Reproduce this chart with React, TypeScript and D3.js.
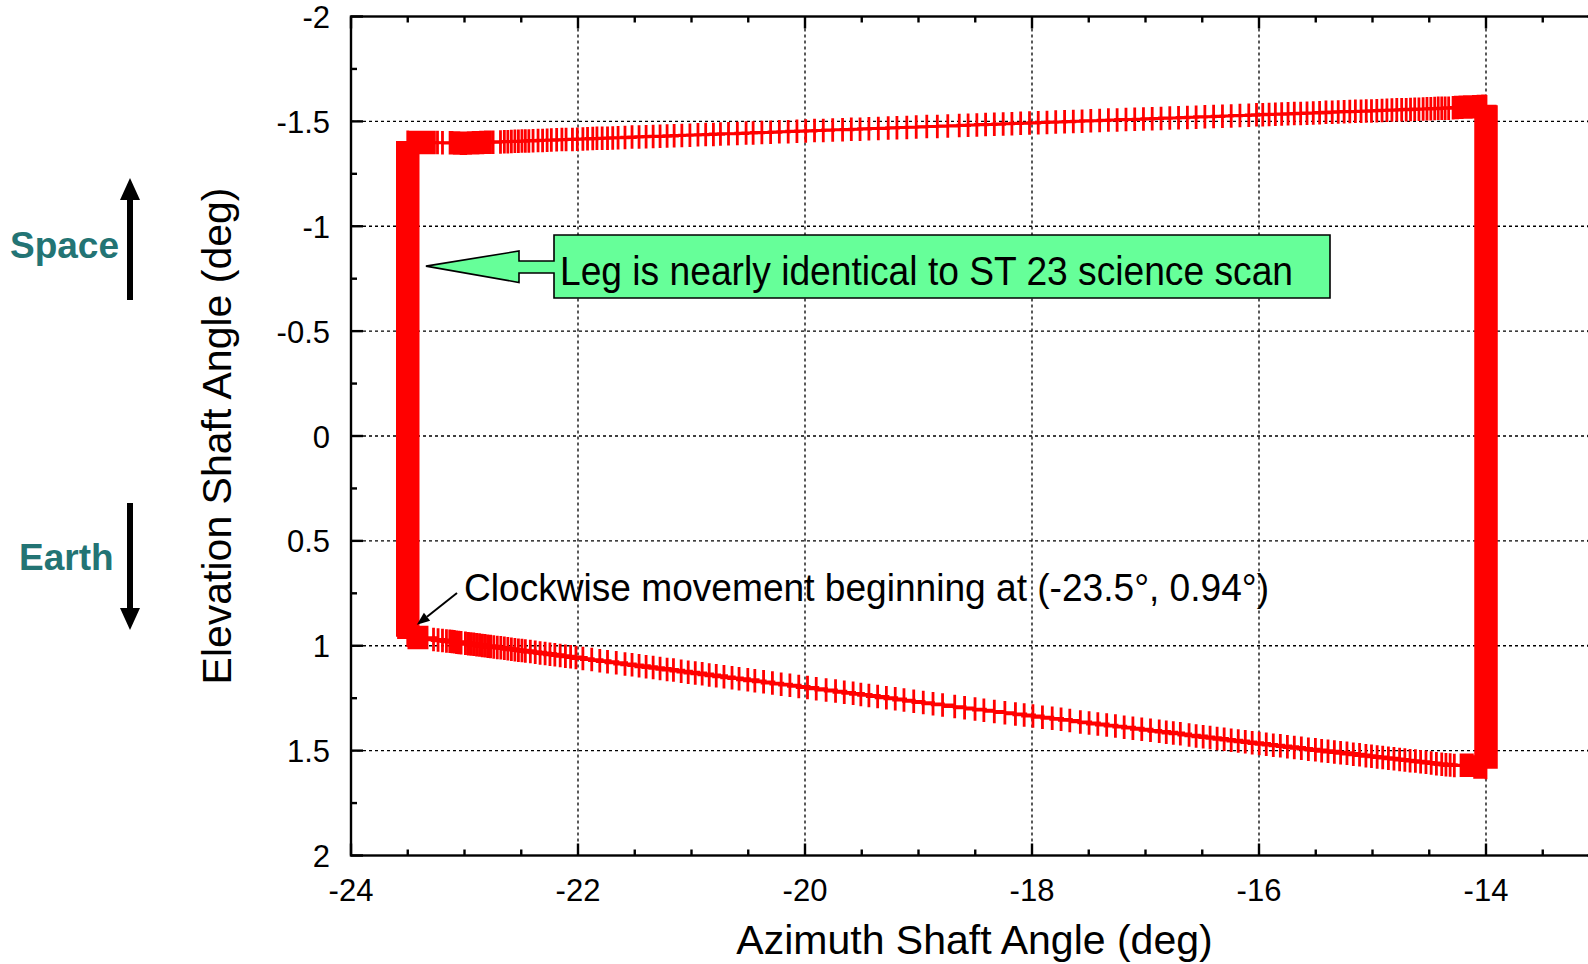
import React, { useEffect } from 'react';
import * as d3 from 'd3';

// ---------- data (degrees) ----------
const xDomain: [number, number] = [-24, -13];
const yDomain: [number, number] = [-2, 2];
const xMajorTicks = [-24, -22, -20, -18, -16, -14];
const xMinorTicks = [-23.5, -23, -22.5, -21.5, -21, -20.5, -19.5, -19, -18.5, -17.5, -17, -16.5, -15.5, -15, -14.5, -13.5];
const yMajorTicks = [-2, -1.5, -1, -0.5, 0, 0.5, 1, 1.5, 2];
const yMinorTicks = [-1.75, -1.25, -0.75, -0.25, 0.25, 0.75, 1.25, 1.75];
const xTickLabels = ['-24', '-22', '-20', '-18', '-16', '-14'];
const yTickLabels = ['-2', '-1.5', '-1', '-0.5', '0', '0.5', '1', '1.5', '2'];

// left leg (az constant), traversed upward from the start point
const leftLegAz = -23.5;
const leftLegEl = [
  0.95, 0.94, 0.93, 0.92, 0.91, 0.90, 0.89, 0.88, 0.87, 0.86, 0.85, 0.84, 0.83, 0.82, 0.81, 0.80, 0.79, 0.78, 0.77, 0.76,
  0.75, 0.74, 0.73, 0.72, 0.71, 0.70, 0.69, 0.68, 0.67, 0.66, 0.65, 0.64, 0.63, 0.62, 0.61, 0.60, 0.59, 0.58, 0.57, 0.56,
  0.55, 0.54, 0.53, 0.52, 0.51, 0.50, 0.49, 0.48, 0.47, 0.46, 0.45, 0.44, 0.43, 0.42, 0.41, 0.40, 0.39, 0.38, 0.37, 0.36,
  0.35, 0.34, 0.33, 0.32, 0.31, 0.30, 0.29, 0.28, 0.27, 0.26, 0.25, 0.24, 0.23, 0.22, 0.21, 0.20, 0.19, 0.18, 0.17, 0.16,
  0.15, 0.14, 0.13, 0.12, 0.11, 0.10, 0.09, 0.08, 0.07, 0.06, 0.05, 0.04, 0.03, 0.02, 0.01, 0.00, -0.01, -0.02, -0.03, -0.04,
  -0.05, -0.06, -0.07, -0.08, -0.09, -0.10, -0.11, -0.12, -0.13, -0.14, -0.15, -0.16, -0.17, -0.18, -0.19, -0.20, -0.21, -0.22, -0.23, -0.24,
  -0.25, -0.26, -0.27, -0.28, -0.29, -0.30, -0.31, -0.32, -0.33, -0.34, -0.35, -0.36, -0.37, -0.38, -0.39, -0.40, -0.41, -0.42, -0.43, -0.44,
  -0.45, -0.46, -0.47, -0.48, -0.49, -0.50, -0.51, -0.52, -0.53, -0.54, -0.55, -0.56, -0.57, -0.58, -0.59, -0.60, -0.61, -0.62, -0.63, -0.64,
  -0.65, -0.66, -0.67, -0.68, -0.69, -0.70, -0.71, -0.72, -0.73, -0.74, -0.75, -0.76, -0.77, -0.78, -0.79, -0.80, -0.81, -0.82, -0.83, -0.84,
  -0.85, -0.86, -0.87, -0.88, -0.89, -0.90, -0.91, -0.92, -0.93, -0.94, -0.95, -0.96, -0.97, -0.98, -0.99, -1.00, -1.01, -1.02, -1.03, -1.04,
  -1.05, -1.06, -1.07, -1.08, -1.09, -1.10, -1.11, -1.12, -1.13, -1.14, -1.15, -1.16, -1.17, -1.18, -1.19, -1.20, -1.21, -1.22, -1.23, -1.24,
  -1.25, -1.26, -1.27, -1.28, -1.29, -1.30, -1.31, -1.32, -1.33, -1.34, -1.35, -1.36, -1.37, -1.38, -1.39, -1.40,
];

// top leg [az, el], left to right
const topLeg: [number, number][] = [
  [-23.485, -1.399], [-23.465, -1.399], [-23.445, -1.399], [-23.425, -1.399], [-23.405, -1.399], [-23.385, -1.399],
  [-23.365, -1.399], [-23.345, -1.399], [-23.325, -1.399], [-23.305, -1.399], [-23.285, -1.399], [-23.265, -1.399],
  [-23.238, -1.399], [-23.194, -1.398],
  [-23.127, -1.398], [-23.11, -1.398], [-23.09, -1.397], [-23.07, -1.397], [-23.05, -1.397], [-23.03, -1.396], [-23.01, -1.396],
  [-22.989, -1.396], [-22.967, -1.397], [-22.946, -1.397], [-22.924, -1.398], [-22.902, -1.398], [-22.881, -1.398], [-22.859, -1.399],
  [-22.838, -1.399], [-22.816, -1.4], [-22.794, -1.4], [-22.773, -1.4], [-22.748, -1.401],
  [-22.683, -1.402], [-22.649, -1.403], [-22.618, -1.403], [-22.587, -1.404], [-22.556, -1.405], [-22.525, -1.405], [-22.494, -1.406],
  [-22.464, -1.406], [-22.433, -1.407], [-22.396, -1.408],
  [-22.352, -1.409], [-22.312, -1.409], [-22.272, -1.41], [-22.235, -1.411], [-22.188, -1.412], [-22.142, -1.413], [-22.105, -1.413],
  [-22.049, -1.414], [-22.006, -1.415], [-21.957, -1.416], [-21.916, -1.417], [-21.87, -1.418], [-21.833, -1.419], [-21.787, -1.419],
  [-21.74, -1.42], [-21.694, -1.421], [-21.647, -1.422], [-21.586, -1.423], [-21.524, -1.425], [-21.462, -1.426], [-21.4, -1.427],
  [-21.338, -1.428], [-21.277, -1.429], [-21.215, -1.43], [-21.153, -1.432], [-21.085, -1.433], [-21.014, -1.434], [-20.943, -1.436],
  [-20.875, -1.437], [-20.807, -1.438], [-20.745, -1.44], [-20.674, -1.441], [-20.596, -1.442], [-20.519, -1.444], [-20.457, -1.445],
  [-20.38, -1.447], [-20.303, -1.448], [-20.226, -1.45], [-20.148, -1.451], [-20.071, -1.453], [-19.994, -1.454], [-19.916, -1.456],
  [-19.839, -1.457], [-19.756, -1.459], [-19.669, -1.46], [-19.592, -1.462], [-19.515, -1.463], [-19.437, -1.465], [-19.354, -1.466],
  [-19.267, -1.468], [-19.19, -1.47], [-19.103, -1.471], [-19.02, -1.473], [-18.927, -1.475], [-18.834, -1.476], [-18.742, -1.478],
  [-18.641, -1.48], [-18.563, -1.482], [-18.486, -1.483], [-18.409, -1.485], [-18.332, -1.486], [-18.254, -1.488], [-18.177, -1.489],
  [-18.1, -1.491], [-18.022, -1.492], [-17.945, -1.494], [-17.868, -1.495], [-17.791, -1.497], [-17.713, -1.498], [-17.636, -1.5],
  [-17.559, -1.501], [-17.482, -1.503], [-17.404, -1.504], [-17.327, -1.506], [-17.25, -1.507], [-17.172, -1.509], [-17.095, -1.51],
  [-17.018, -1.511], [-16.941, -1.513], [-16.863, -1.514], [-16.786, -1.516], [-16.709, -1.517], [-16.631, -1.519], [-16.554, -1.52],
  [-16.477, -1.522], [-16.4, -1.523], [-16.322, -1.525], [-16.245, -1.526], [-16.168, -1.528], [-16.09, -1.529], [-16.022, -1.531],
  [-15.967, -1.532], [-15.911, -1.533], [-15.856, -1.534], [-15.8, -1.535], [-15.744, -1.536], [-15.689, -1.537], [-15.633, -1.538],
  [-15.577, -1.539], [-15.522, -1.54], [-15.466, -1.541], [-15.41, -1.543], [-15.355, -1.544], [-15.302, -1.545], [-15.25, -1.546],
  [-15.2, -1.547], [-15.151, -1.548], [-15.101, -1.548], [-15.055, -1.549], [-15.009, -1.55], [-14.962, -1.551], [-14.916, -1.552],
  [-14.873, -1.553], [-14.829, -1.554], [-14.786, -1.555], [-14.743, -1.555], [-14.703, -1.556], [-14.665, -1.557], [-14.628, -1.558],
  [-14.591, -1.558], [-14.554, -1.559], [-14.52, -1.56], [-14.486, -1.56], [-14.452, -1.561], [-14.421, -1.562], [-14.39, -1.562],
  [-14.36, -1.563], [-14.329, -1.563],
  [-14.29, -1.565], [-14.27, -1.566], [-14.25, -1.566], [-14.23, -1.567], [-14.21, -1.567], [-14.19, -1.568], [-14.17, -1.568],
  [-14.15, -1.569], [-14.13, -1.569], [-14.11, -1.57], [-14.09, -1.57], [-14.07, -1.571], [-14.05, -1.571], [-14.03, -1.572], [-14.01, -1.572],
];

// right leg (az constant), traversed downward
const rightLegAz = -14.0;
const rightLegEl = [
  -1.57, -1.56, -1.55, -1.54, -1.53, -1.52, -1.51, -1.50, -1.49, -1.48, -1.47, -1.46, -1.45, -1.44, -1.43, -1.42, -1.41, -1.40, -1.39, -1.38,
  -1.37, -1.36, -1.35, -1.34, -1.33, -1.32, -1.31, -1.30, -1.29, -1.28, -1.27, -1.26, -1.25, -1.24, -1.23, -1.22, -1.21, -1.20, -1.19, -1.18,
  -1.17, -1.16, -1.15, -1.14, -1.13, -1.12, -1.11, -1.10, -1.09, -1.08, -1.07, -1.06, -1.05, -1.04, -1.03, -1.02, -1.01, -1.00, -0.99, -0.98,
  -0.97, -0.96, -0.95, -0.94, -0.93, -0.92, -0.91, -0.90, -0.89, -0.88, -0.87, -0.86, -0.85, -0.84, -0.83, -0.82, -0.81, -0.80, -0.79, -0.78,
  -0.77, -0.76, -0.75, -0.74, -0.73, -0.72, -0.71, -0.70, -0.69, -0.68, -0.67, -0.66, -0.65, -0.64, -0.63, -0.62, -0.61, -0.60, -0.59, -0.58,
  -0.57, -0.56, -0.55, -0.54, -0.53, -0.52, -0.51, -0.50, -0.49, -0.48, -0.47, -0.46, -0.45, -0.44, -0.43, -0.42, -0.41, -0.40, -0.39, -0.38,
  -0.37, -0.36, -0.35, -0.34, -0.33, -0.32, -0.31, -0.30, -0.29, -0.28, -0.27, -0.26, -0.25, -0.24, -0.23, -0.22, -0.21, -0.20, -0.19, -0.18,
  -0.17, -0.16, -0.15, -0.14, -0.13, -0.12, -0.11, -0.10, -0.09, -0.08, -0.07, -0.06, -0.05, -0.04, -0.03, -0.02, -0.01, 0.00, 0.01, 0.02,
  0.03, 0.04, 0.05, 0.06, 0.07, 0.08, 0.09, 0.10, 0.11, 0.12, 0.13, 0.14, 0.15, 0.16, 0.17, 0.18, 0.19, 0.20, 0.21, 0.22,
  0.23, 0.24, 0.25, 0.26, 0.27, 0.28, 0.29, 0.30, 0.31, 0.32, 0.33, 0.34, 0.35, 0.36, 0.37, 0.38, 0.39, 0.40, 0.41, 0.42,
  0.43, 0.44, 0.45, 0.46, 0.47, 0.48, 0.49, 0.50, 0.51, 0.52, 0.53, 0.54, 0.55, 0.56, 0.57, 0.58, 0.59, 0.60, 0.61, 0.62,
  0.63, 0.64, 0.65, 0.66, 0.67, 0.68, 0.69, 0.70, 0.71, 0.72, 0.73, 0.74, 0.75, 0.76, 0.77, 0.78, 0.79, 0.80, 0.81, 0.82,
  0.83, 0.84, 0.85, 0.86, 0.87, 0.88, 0.89, 0.90, 0.91, 0.92, 0.93, 0.94, 0.95, 0.96, 0.97, 0.98, 0.99, 1.00, 1.01, 1.02,
  1.03, 1.04, 1.05, 1.06, 1.07, 1.08, 1.09, 1.10, 1.11, 1.12, 1.13, 1.14, 1.15, 1.16, 1.17, 1.18, 1.19, 1.20, 1.21, 1.22,
  1.23, 1.24, 1.25, 1.26, 1.27, 1.28, 1.29, 1.30, 1.31, 1.32, 1.33, 1.34, 1.35, 1.36, 1.37, 1.38, 1.39, 1.40, 1.41, 1.42,
  1.43, 1.44, 1.45, 1.46, 1.47, 1.48, 1.49, 1.50, 1.51, 1.52, 1.53, 1.54, 1.55, 1.56, 1.57, 1.58,
];

// bottom leg [az, el], listed left to right (traversed right to left)
const bottomLeg: [number, number][] = [
  [-23.49, 0.961], [-23.47, 0.961], [-23.45, 0.961], [-23.43, 0.961], [-23.41, 0.961], [-23.39, 0.961], [-23.37, 0.961],
  [-23.35, 0.961], [-23.33, 0.961],
  [-23.273, 0.97], [-23.233, 0.972], [-23.194, 0.975], [-23.159, 0.977],
  [-23.13, 0.979], [-23.11, 0.98], [-23.09, 0.981], [-23.07, 0.983], [-23.05, 0.984], [-23.03, 0.986],
  [-22.992, 0.988], [-22.967, 0.99], [-22.943, 0.992], [-22.918, 0.993], [-22.893, 0.995], [-22.868, 0.997], [-22.844, 0.999],
  [-22.819, 1.0], [-22.794, 1.002], [-22.77, 1.004],
  [-22.742, 1.006], [-22.711, 1.008], [-22.68, 1.01], [-22.649, 1.012], [-22.618, 1.014], [-22.587, 1.017], [-22.556, 1.019],
  [-22.525, 1.021], [-22.494, 1.023], [-22.464, 1.025],
  [-22.42, 1.028], [-22.377, 1.031], [-22.334, 1.034], [-22.29, 1.037], [-22.247, 1.04], [-22.204, 1.043], [-22.157, 1.047],
  [-22.111, 1.05], [-22.065, 1.053], [-22.018, 1.056],
  [-21.957, 1.061], [-21.879, 1.066], [-21.808, 1.071], [-21.74, 1.076], [-21.663, 1.081], [-21.586, 1.087], [-21.524, 1.091],
  [-21.462, 1.095], [-21.4, 1.1], [-21.338, 1.104], [-21.277, 1.108], [-21.215, 1.113], [-21.159, 1.116], [-21.091, 1.121],
  [-21.029, 1.126], [-20.967, 1.13], [-20.906, 1.134], [-20.844, 1.139], [-20.782, 1.143], [-20.714, 1.148], [-20.643, 1.153],
  [-20.581, 1.157], [-20.504, 1.162], [-20.442, 1.167], [-20.365, 1.172], [-20.287, 1.178], [-20.21, 1.183], [-20.133, 1.188],
  [-20.055, 1.194], [-19.978, 1.199], [-19.901, 1.205], [-19.814, 1.211], [-19.731, 1.216], [-19.654, 1.222], [-19.576, 1.227],
  [-19.508, 1.232], [-19.437, 1.237], [-19.36, 1.242], [-19.283, 1.248], [-19.205, 1.253], [-19.128, 1.259], [-19.042, 1.265],
  [-18.958, 1.271], [-18.872, 1.277], [-18.788, 1.282],
  [-18.681, 1.29], [-18.594, 1.296], [-18.502, 1.302], [-18.424, 1.307], [-18.332, 1.313], [-18.239, 1.319], [-18.146, 1.325],
  [-18.069, 1.33], [-17.992, 1.335], [-17.908, 1.341], [-17.822, 1.346], [-17.744, 1.351], [-17.667, 1.356], [-17.574, 1.363],
  [-17.497, 1.368], [-17.42, 1.373], [-17.342, 1.378], [-17.265, 1.383], [-17.188, 1.388], [-17.111, 1.393], [-17.033, 1.398],
  [-16.956, 1.403], [-16.879, 1.408], [-16.817, 1.412], [-16.755, 1.416], [-16.693, 1.42], [-16.616, 1.426], [-16.554, 1.43],
  [-16.492, 1.434], [-16.431, 1.438], [-16.369, 1.442], [-16.307, 1.446], [-16.245, 1.45], [-16.183, 1.454], [-16.121, 1.458],
  [-16.06, 1.462],
  [-15.998, 1.466], [-15.936, 1.47], [-15.874, 1.474], [-15.812, 1.477], [-15.75, 1.481], [-15.689, 1.485], [-15.627, 1.489],
  [-15.565, 1.493], [-15.503, 1.496], [-15.448, 1.5], [-15.392, 1.503], [-15.336, 1.507], [-15.281, 1.51], [-15.225, 1.513],
  [-15.169, 1.517], [-15.114, 1.52], [-15.058, 1.524], [-15.009, 1.527], [-14.959, 1.53], [-14.91, 1.533], [-14.86, 1.536],
  [-14.811, 1.539], [-14.761, 1.542], [-14.715, 1.545], [-14.669, 1.548], [-14.622, 1.55], [-14.576, 1.553], [-14.529, 1.556],
  [-14.483, 1.559], [-14.437, 1.562], [-14.39, 1.565], [-14.353, 1.567], [-14.316, 1.569], [-14.279, 1.571],
  [-14.22, 1.57], [-14.2, 1.57], [-14.18, 1.57], [-14.16, 1.57], [-14.14, 1.57], [-14.12, 1.57],
  [-14.1, 1.578], [-14.08, 1.578], [-14.06, 1.578], [-14.04, 1.578], [-14.02, 1.578],
];

// annotation anchor points (data coords)
const legCalloutTip: [number, number] = [-23.34, -0.81];
const startArrowTip: [number, number] = [-23.42, 0.9];

const W = 1588;
const H = 964;
const RED = '#ff0000';
const TEAL = '#237474';
const GREEN = '#66ff99';
const FONT = "'Liberation Sans', Arial, Helvetica, sans-serif";

export default function App() {
  useEffect(() => {
    document.body.style.margin = '0';
    document.body.style.overflow = 'hidden';
  }, []);

  const x = d3.scaleLinear().domain(xDomain).range([351, 1599.5]);
  const y = d3.scaleLinear().domain(yDomain).range([16.5, 855.5]);
  const left = x(xDomain[0]);
  const right = x(xDomain[1]);
  const top = y(yDomain[0]);
  const bottom = y(yDomain[1]);

  const pts: [number, number][] = [
    ...leftLegEl.map((e) => [leftLegAz, e] as [number, number]),
    ...topLeg,
    ...rightLegEl.map((e) => [rightLegAz, e] as [number, number]),
    ...bottomLeg.slice().reverse(),
  ];

  const line = d3
    .line<[number, number]>()
    .x((d) => x(d[0]))
    .y((d) => y(d[1]));

  const arm = 11.75;
  const mk = d3.path();
  for (const [a, e] of pts) {
    const px = x(a);
    const py = y(e);
    mk.moveTo(px - arm, py);
    mk.lineTo(px + arm, py);
    mk.moveTo(px, py - arm);
    mk.lineTo(px, py + arm);
  }

  const majorLen = 12;
  const minorLen = 6;

  // callout geometry
  const tipX = x(legCalloutTip[0]);
  const tipY = y(legCalloutTip[1]);
  const boxL = 554, boxR = 1330, boxT = 235, boxB = 298;
  const callout = `M${boxL},${boxT} H${boxR} V${boxB} H${boxL} V273 H519 V282.5 L${tipX},${tipY} L519,251 V261 H${boxL} Z`;

  const sTipX = x(startArrowTip[0]);
  const sTipY = y(startArrowTip[1]);
  const sTail = [457, 593];
  const ang = Math.atan2(sTipY - sTail[1], sTipX - sTail[0]);
  const hl = 13, hw = 5;
  const bx = sTipX - hl * Math.cos(ang);
  const by = sTipY - hl * Math.sin(ang);
  const headPts = [
    [sTipX, sTipY],
    [bx + hw * Math.sin(ang), by - hw * Math.cos(ang)],
    [bx - hw * Math.sin(ang), by + hw * Math.cos(ang)],
  ];

  return (
    <svg
      width={W}
      height={H}
      viewBox={`0 0 ${W} ${H}`}
      style={{ position: 'absolute', left: 0, top: 0, display: 'block', background: '#fff' }}
      fontFamily={FONT}
    >
      <rect x={0} y={0} width={W} height={H} fill="#fff" />
      {/* grid */}
      <g stroke="#000" strokeWidth={1.3} strokeDasharray="3,3" fill="none">
        {xMajorTicks
          .filter((t) => t > xDomain[0] && t < xDomain[1])
          .map((t) => (
            <line key={'gx' + t} x1={x(t)} x2={x(t)} y1={top} y2={bottom} />
          ))}
        {yMajorTicks
          .filter((t) => t > yDomain[0] && t < yDomain[1])
          .map((t) => (
            <line key={'gy' + t} x1={left} x2={right} y1={y(t)} y2={y(t)} />
          ))}
      </g>

      {/* data */}
      <path d={line(pts) || ''} fill="none" stroke={RED} strokeWidth={2.2} />
      <path d={mk.toString()} fill="none" stroke={RED} strokeWidth={2.8} />

      {/* border and ticks */}
      <g stroke="#000" strokeWidth={2.4} fill="none">
        <rect x={left} y={top} width={right - left} height={bottom - top} />
        {xMajorTicks.map((t) => (
          <g key={'tx' + t}>
            <line x1={x(t)} x2={x(t)} y1={bottom} y2={bottom - majorLen} />
            <line x1={x(t)} x2={x(t)} y1={top} y2={top + majorLen} />
          </g>
        ))}
        {xMinorTicks.map((t) => (
          <g key={'mx' + t}>
            <line x1={x(t)} x2={x(t)} y1={bottom} y2={bottom - minorLen} />
            <line x1={x(t)} x2={x(t)} y1={top} y2={top + minorLen} />
          </g>
        ))}
        {yMajorTicks.map((t) => (
          <g key={'ty' + t}>
            <line x1={left} x2={left + majorLen} y1={y(t)} y2={y(t)} />
            <line x1={right} x2={right - majorLen} y1={y(t)} y2={y(t)} />
          </g>
        ))}
        {yMinorTicks.map((t) => (
          <g key={'my' + t}>
            <line x1={left} x2={left + minorLen} y1={y(t)} y2={y(t)} />
            <line x1={right} x2={right - minorLen} y1={y(t)} y2={y(t)} />
          </g>
        ))}
      </g>

      {/* tick labels */}
      <g fontSize={31} fill="#000">
        {xMajorTicks.map((t, i) => (
          <text key={'lx' + t} x={x(t)} y={901} textAnchor="middle">
            {xTickLabels[i]}
          </text>
        ))}
        {yMajorTicks.map((t, i) => (
          <text key={'ly' + t} x={330} y={y(t) + 11.5} textAnchor="end">
            {yTickLabels[i]}
          </text>
        ))}
      </g>

      {/* axis titles */}
      <text x={974.5} y={954} fontSize={41} textAnchor="middle" fill="#000">
        Azimuth Shaft Angle (deg)
      </text>
      <text
        transform="translate(231,436) rotate(-90)"
        x={0}
        y={0}
        fontSize={41}
        textAnchor="middle"
        fill="#000"
      >
        Elevation Shaft Angle (deg)
      </text>

      {/* Space / Earth */}
      <text x={10} y={258} fontSize={37} fontWeight="bold" fill={TEAL}>
        Space
      </text>
      <text x={19} y={570} fontSize={37} fontWeight="bold" fill={TEAL}>
        Earth
      </text>
      <line x1={130} x2={130} y1={300} y2={192} stroke="#000" strokeWidth={6} />
      <polygon points="130,178 120,200 140,200" fill="#000" />
      <line x1={130} x2={130} y1={503} y2={616} stroke="#000" strokeWidth={6} />
      <polygon points="130,630 120,608 140,608" fill="#000" />

      {/* callout */}
      <path d={callout} fill={GREEN} stroke="#000" strokeWidth={1.6} strokeLinejoin="miter" />
      <text x={560} y={285} fontSize={40} fill="#000" textLength={733} lengthAdjust="spacingAndGlyphs">
        Leg is nearly identical to ST 23 science scan
      </text>

      {/* start annotation */}
      <line x1={sTail[0]} y1={sTail[1]} x2={bx} y2={by} stroke="#000" strokeWidth={2} />
      <polygon points={headPts.map((p) => p.join(',')).join(' ')} fill="#000" />
      <text x={464} y={601} fontSize={38} fill="#000" textLength={805} lengthAdjust="spacingAndGlyphs">
        Clockwise movement beginning at (-23.5°, 0.94°)
      </text>
    </svg>
  );
}
